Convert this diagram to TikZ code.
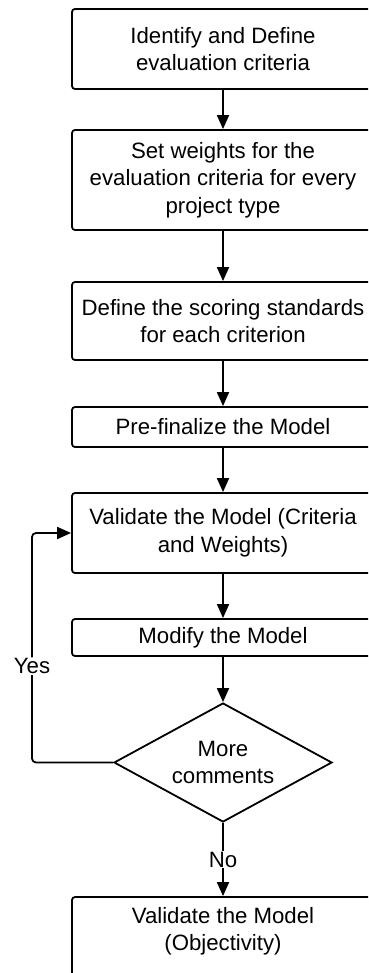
\documentclass[tikz,border=0pt]{standalone}
\usepackage{fontspec}
\setmainfont{Liberation Sans}
\usetikzlibrary{arrows.meta,shapes.geometric}
\begin{document}
\begin{tikzpicture}[x=1pt,y=-1pt,
  every node/.style={font=\fontsize{22.2}{27.5}\selectfont},
  box/.style={draw, line width=1.8pt, rounded corners=3pt, minimum width=302pt, align=center, inner sep=2pt},
  dec/.style={draw, line width=1.8pt, diamond, aspect=1.832, minimum width=218pt, minimum height=119pt, align=center, inner sep=0pt},
  conn/.style={line width=1.8pt, -{Triangle[length=14pt,width=12pt]}},
  lbl/.style={fill=white, inner sep=1pt}]
\useasboundingbox (0,0) rectangle (368,973);
\clip (0,0) rectangle (368,973);
\node[box, minimum height=80pt] (b1) at (223,49) {Identify and Define\\evaluation criteria};
\node[box, minimum height=100pt] (b2) at (223,180) {Set weights for the\\evaluation criteria for every\\project type};
\node[box, minimum height=78pt] (b3) at (223,321) {Define the scoring standards\\for each criterion};
\node[box, minimum height=40pt] (b4) at (223,427) {Pre-finalize the Model};
\node[box, minimum height=80pt] (b5) at (223,533) {Validate the Model (Criteria\\and Weights)};
\node[box, minimum height=37pt] (b6) at (223,637.5) {Modify the Model};
\node[dec] (d) at (223,762.5) {More\\comments};
\node[box, minimum height=80pt, text depth=16pt] (b7) at (223,937) {Validate the Model\\(Objectivity)};
\coordinate (c1) at (32,762.5);
\coordinate (c2) at (32,533);
\draw[conn] (b1) -- (b2);
\draw[conn] (b2) -- (b3);
\draw[conn] (b3) -- (b4);
\draw[conn] (b4) -- (b5);
\draw[conn] (b5) -- (b6);
\draw[conn] (b6) -- (d);
\draw[conn] (d.south) -- node[lbl] {No} (b7.north);
\draw[conn, rounded corners=4pt] (d.west) -- (c1) -- node[lbl, pos=0.42] {Yes} (c2) -- (b5.west);
\end{tikzpicture}
\end{document}
